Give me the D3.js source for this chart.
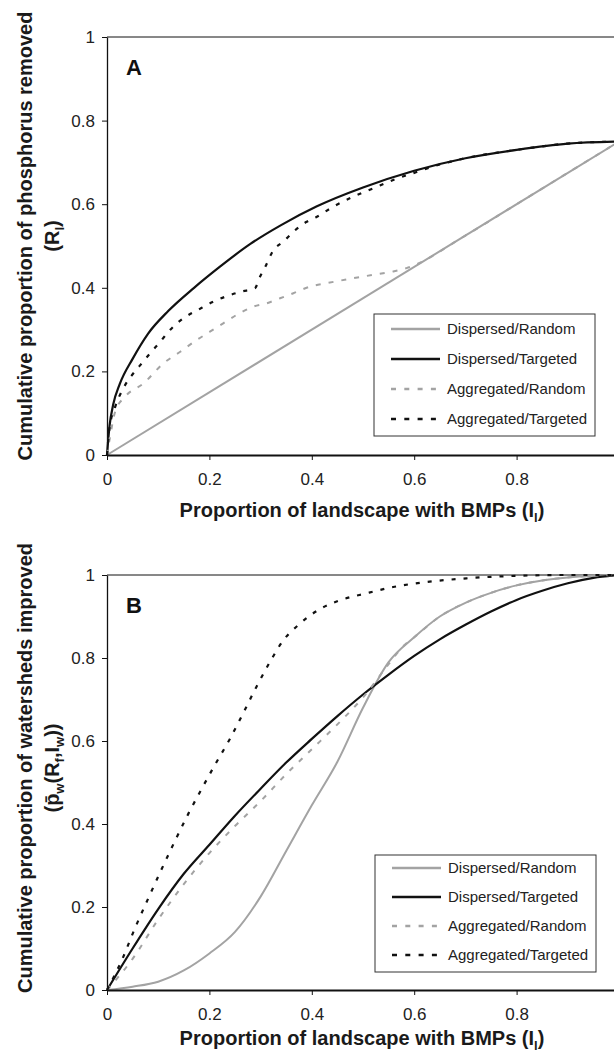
<!DOCTYPE html>
<html>
<head>
<meta charset="utf-8">
<script src="https://cdn.jsdelivr.net/npm/d3@7"></script>
<style>
  body { margin: 0; background: #fff; }
  svg { display: block; font-family: "Liberation Sans", Arial, sans-serif; }
  .tick text { font-size: 17px; fill: #222; }
  .legend text { font-size: 15px; fill: #222; }
</style>
</head>
<body>
<div id="chartArea"></div>
<script>
// ---- data ----
let ticks = [0, 0.2, 0.4, 0.6, 0.8, 1];
let seriesNames = ['Dispersed/Random', 'Dispersed/Targeted', 'Aggregated/Random', 'Aggregated/Targeted'];

// panel A : cumulative proportion of phosphorus removed
let aDispRandX = [0, 1];
let aDispRandY = [0, 0.75];

let aDispTargX = [0, 0.005, 0.012, 0.025, 0.05, 0.08, 0.12, 0.17, 0.22, 0.28, 0.34, 0.41, 0.5, 0.6, 0.7, 0.8, 0.9, 1];
let aDispTargY = [0, 0.07, 0.12, 0.17, 0.23, 0.29, 0.345, 0.40, 0.45, 0.505, 0.55, 0.595, 0.64, 0.68, 0.71, 0.73, 0.745, 0.75];

let aAggRandX = [0, 0.006, 0.016, 0.035, 0.071, 0.11, 0.143, 0.175, 0.201, 0.227, 0.253, 0.286, 0.312, 0.338, 0.364, 0.397, 0.429, 0.481, 0.52, 0.559, 0.585, 0.7, 0.8, 0.9, 1];
let aAggRandY = [0, 0.044, 0.104, 0.139, 0.171, 0.219, 0.247, 0.275, 0.295, 0.315, 0.335, 0.355, 0.363, 0.375, 0.387, 0.403, 0.411, 0.423, 0.431, 0.439, 0.447, 0.525, 0.6, 0.675, 0.75];

let aAggTargX = [0, 0.005, 0.016, 0.032, 0.048, 0.065, 0.084, 0.104, 0.123, 0.149, 0.179, 0.208, 0.234, 0.263, 0.289, 0.299, 0.309, 0.325, 0.344, 0.364, 0.39, 0.41, 0.442, 0.481, 0.52, 0.559, 0.6, 0.65, 0.7, 0.8, 0.9, 1];
let aAggTargY = [0, 0.065, 0.115, 0.16, 0.19, 0.215, 0.243, 0.271, 0.299, 0.327, 0.348, 0.367, 0.38, 0.391, 0.399, 0.427, 0.45, 0.49, 0.51, 0.534, 0.558, 0.57, 0.594, 0.618, 0.638, 0.658, 0.675, 0.695, 0.71, 0.73, 0.745, 0.75];

// panel B : cumulative proportion of watersheds improved
let bDispRandX = [0, 0.05, 0.1, 0.15, 0.2, 0.25, 0.3, 0.35, 0.4, 0.45, 0.5, 0.55, 0.6, 0.65, 0.7, 0.75, 0.8, 0.85, 0.9, 0.95, 1];
let bDispRandY = [0, 0.008, 0.02, 0.047, 0.088, 0.14, 0.225, 0.335, 0.445, 0.55, 0.68, 0.79, 0.85, 0.9, 0.933, 0.957, 0.975, 0.987, 0.994, 0.998, 1];

let bDispTargX = [0, 0.05, 0.1, 0.15, 0.2, 0.25, 0.3, 0.35, 0.4, 0.45, 0.5, 0.55, 0.6, 0.65, 0.7, 0.75, 0.8, 0.85, 0.9, 0.95, 1];
let bDispTargY = [0, 0.1, 0.195, 0.28, 0.35, 0.42, 0.485, 0.548, 0.605, 0.66, 0.712, 0.76, 0.805, 0.845, 0.88, 0.912, 0.94, 0.962, 0.98, 0.993, 1];

let bAggRandX = [0, 0.05, 0.1, 0.15, 0.2, 0.25, 0.3, 0.35, 0.4, 0.45, 0.5, 0.55, 0.58, 0.6, 0.65, 0.7, 0.75, 0.8, 0.85, 0.9, 0.95, 1];
let bAggRandY = [0, 0.075, 0.17, 0.255, 0.33, 0.395, 0.455, 0.52, 0.58, 0.64, 0.705, 0.785, 0.83, 0.85, 0.9, 0.933, 0.957, 0.975, 0.987, 0.994, 0.998, 1];

let bAggTargX = [0, 0.029, 0.055, 0.081, 0.107, 0.133, 0.159, 0.185, 0.211, 0.24, 0.266, 0.292, 0.318, 0.344, 0.377, 0.416, 0.455, 0.507, 0.559, 0.624, 0.702, 0.8, 0.898, 1];
let bAggTargY = [0, 0.072, 0.15, 0.222, 0.292, 0.36, 0.425, 0.485, 0.543, 0.605, 0.667, 0.731, 0.79, 0.842, 0.883, 0.918, 0.939, 0.956, 0.971, 0.983, 0.992, 0.998, 1, 1];

function zip(xs, ys) {
    return xs.map((x, i) => ({x: x, y: ys[i]}));
}

let styles = [
    {stroke: '#a3a3a3', width: 2, dash: null},
    {stroke: '#111', width: 2.2, dash: null},
    {stroke: '#a3a3a3', width: 2, dash: '5,8'},
    {stroke: '#111', width: 2.2, dash: '4,8'}
];

let svg = d3.select('#chartArea')
    .append('svg')
        .attr('width', 614)
        .attr('height', 1052);

function drawPanel(opts) {
    let left = 107, right = 619;

    let xScale = d3.scaleLinear().domain([0, 1]).range([left, right]);
    let yScale = d3.scaleLinear().domain([0, 1]).range([opts.bottom, opts.top]);

    let fmt = d => (d === 0 || d === 1) ? String(d) : d.toFixed(1);

    let g = svg.append('g');

    // top frame line
    g.append('line')
        .attr('x1', left).attr('x2', right)
        .attr('y1', opts.top).attr('y2', opts.top)
        .attr('stroke', '#111').attr('stroke-width', 1);

    let yAxis = g.append('g')
        .attr('transform', 'translate(' + left + ',0)')
        .call(d3.axisLeft(yScale).tickValues(ticks).tickFormat(fmt).tickSize(5).tickPadding(7).tickSizeOuter(0));
    yAxis.select('.domain').attr('stroke', '#111').attr('stroke-width', 1.3);
    yAxis.selectAll('.tick line').attr('stroke', '#111');
    yAxis.selectAll('.tick text').attr('font-size', 17);

    let line = d3.line()
        .x(d => xScale(d.x))
        .y(d => yScale(d.y))
        .curve(d3.curveMonotoneX);

    opts.series.forEach((s, i) => {
        g.append('path')
            .attr('d', line(s))
            .attr('fill', 'none')
            .attr('stroke', styles[i].stroke)
            .attr('stroke-width', styles[i].width)
            .attr('stroke-dasharray', styles[i].dash);
    });

    let xAxis = g.append('g')
        .attr('transform', 'translate(0,' + opts.bottom + ')')
        .call(d3.axisBottom(xScale).tickValues(ticks).tickFormat(fmt).tickSize(5).tickPadding(13).tickSizeOuter(0));
    xAxis.select('.domain').attr('stroke', '#111').attr('stroke-width', 2);
    xAxis.selectAll('.tick line').attr('stroke', '#111');
    xAxis.selectAll('.tick text').attr('font-size', 17);

    // panel letter
    g.append('text')
        .attr('x', 126).attr('y', opts.top + 38)
        .attr('font-size', 22).attr('font-weight', 'bold').attr('fill', '#111')
        .text(opts.letter);

    // x title
    let xt = g.append('text')
        .attr('x', (left + right) / 2 - 1).attr('y', opts.xTitleY)
        .attr('text-anchor', 'middle')
        .attr('font-size', 20).attr('font-weight', 'bold').attr('fill', '#1a1a1a');
    xt.append('tspan').text('Proportion of landscape with BMPs (I');
    xt.append('tspan').attr('font-size', 13).attr('dy', 5).text('l');
    xt.append('tspan').attr('dy', -5).text(')');

    // y title, two lines
    let yt = g.append('g')
        .attr('transform', 'translate(0,' + opts.yTitleMid + ') rotate(-90)');
    yt.append('text')
        .attr('x', 0).attr('y', 32)
        .attr('text-anchor', 'middle')
        .attr('font-size', 20).attr('font-weight', 'bold').attr('fill', '#1a1a1a')
        .text(opts.yTitle);
    let y2 = yt.append('text')
        .attr('x', 0).attr('y', 59)
        .attr('text-anchor', 'middle')
        .attr('font-size', 20).attr('font-weight', 'bold').attr('fill', '#1a1a1a');
    opts.ySub(y2);

    // legend
    let lg = g.append('g').attr('class', 'legend');
    lg.append('rect')
        .attr('x', opts.legend.x).attr('y', opts.legend.y)
        .attr('width', 221).attr('height', opts.legend.h)
        .attr('fill', '#fff').attr('stroke', '#333').attr('stroke-width', 1);
    seriesNames.forEach((name, i) => {
        let ry = opts.legend.y + opts.legend.first + i * opts.legend.step;
        lg.append('line')
            .attr('x1', opts.legend.x + 17).attr('x2', opts.legend.x + 66)
            .attr('y1', ry).attr('y2', ry)
            .attr('stroke', styles[i].stroke)
            .attr('stroke-width', 2.5)
            .attr('stroke-dasharray', styles[i].dash ? '5,8.3' : null);
        lg.append('text')
            .attr('x', opts.legend.x + 73).attr('y', ry + 5)
            .text(name);
    });
}

drawPanel({
    top: 37, bottom: 455, letter: 'A', xTitleY: 517, yTitleMid: 236,
    yTitle: 'Cumulative proportion of phosphorus removed',
    ySub: t => {
        t.append('tspan').text('(R');
        t.append('tspan').attr('font-size', 13).attr('dy', 5).text('l');
        t.append('tspan').attr('dy', -5).text(')');
    },
    legend: {x: 374, y: 314, h: 122, first: 15, step: 30},
    series: [zip(aDispRandX, aDispRandY), zip(aDispTargX, aDispTargY), zip(aAggRandX, aAggRandY), zip(aAggTargX, aAggTargY)]
});

drawPanel({
    top: 575, bottom: 990, letter: 'B', xTitleY: 1045, yTitleMid: 768,
    yTitle: 'Cumulative proportion of watersheds improved',
    ySub: t => {
        t.append('tspan').text('(p\u0304');
        t.append('tspan').attr('font-size', 13).attr('dy', 5).text('w');
        t.append('tspan').attr('dy', -5).text('(R');
        t.append('tspan').attr('font-size', 13).attr('dy', 5).text('f');
        t.append('tspan').attr('dy', -5).text(',I');
        t.append('tspan').attr('font-size', 13).attr('dy', 5).text('w');
        t.append('tspan').attr('dy', -5).text('))');
    },
    legend: {x: 375, y: 855, h: 117, first: 13, step: 29},
    series: [zip(bDispRandX, bDispRandY), zip(bDispTargX, bDispTargY), zip(bAggRandX, bAggRandY), zip(bAggTargX, bAggTargY)]
});
</script>
</body>
</html>
